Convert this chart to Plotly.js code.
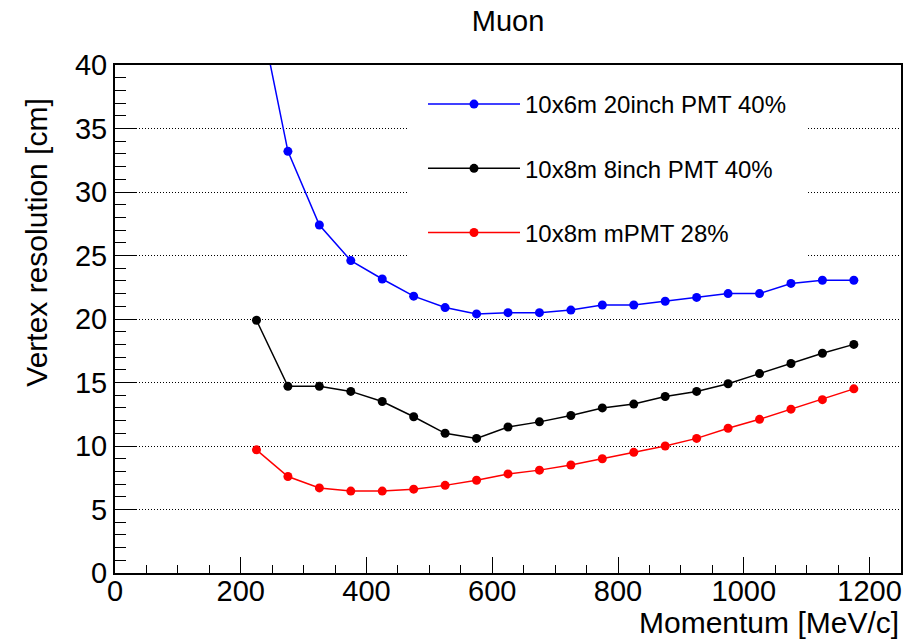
<!DOCTYPE html>
<html>
<head>
<meta charset="utf-8">
<script src="https://cdn.plot.ly/plotly-3.0.1.min.js"></script>
<style>html,body{margin:0;padding:0;background:#fff;}#chart{width:918px;height:640px;}</style>
</head>
<body>
<div id="chart"></div>
<script>
const momentum = [225, 275, 325, 375, 425, 475, 525, 575, 625, 675, 725, 775, 825, 875, 925, 975, 1025, 1075, 1125, 1175];
const res20inch = [45.4, 33.2, 27.4, 24.6, 23.15, 21.8, 20.9, 20.4, 20.5, 20.5, 20.7, 21.1, 21.1, 21.4, 21.7, 22.0, 22.0, 22.8, 23.05, 23.05];
const res8inch = [19.9, 14.7, 14.7, 14.3, 13.5, 12.3, 11.0, 10.6, 11.5, 11.9, 12.4, 13.0, 13.3, 13.9, 14.3, 14.9, 15.7, 16.5, 17.3, 18.0];
const resMPMT = [9.7, 7.6, 6.7, 6.45, 6.45, 6.6, 6.9, 7.3, 7.8, 8.1, 8.5, 9.0, 9.5, 10.0, 10.6, 11.4, 12.1, 12.9, 13.65, 14.5];
const seriesNames = ["10x6m 20inch PMT 40%", "10x8m 8inch PMT 40%", "10x8m mPMT 28%"];
const seriesColors = ["#0000ff", "#000000", "#ff0000"];
const xTicks = [0, 200, 400, 600, 800, 1000, 1200];
const yTicks = [0, 5, 10, 15, 20, 25, 30, 35, 40];

const FONT = "Liberation Sans, Arial, Helvetica, sans-serif";
const ys = [res20inch, res8inch, resMPMT];
const traces = ys.map((y, i) => ({
  x: momentum, y: y, type: "scatter", mode: "lines+markers",
  name: seriesNames[i], legendgroup: "g" + i,
  line: {color: seriesColors[i], width: 1.5},
  marker: {color: seriesColors[i], size: 9, symbol: "circle"}
}));

const layout = {
  width: 918, height: 640,
  margin: {l: 115, r: 17, t: 65, b: 67, pad: 0},
  paper_bgcolor: "#fff", plot_bgcolor: "#fff",
  font: {family: FONT, color: "#000"},
  title: {text: "Muon", font: {size: 29, family: FONT, color: "#000"}, x: 0.5535, xanchor: "center", y: 0.967, yanchor: "middle", xref: "container", yref: "container"},
  showlegend: true,
  legend: {x: 0.3715, y: 0.998, xanchor: "left", yanchor: "top", bgcolor: "#fff", bordercolor: "#fff", borderwidth: 16,
           font: {size: 24, family: FONT, color: "#000"}, tracegroupgap: 30, itemwidth: 92},
  xaxis: {range: [0, 1250], tickvals: xTicks, ticktext: xTicks.map(String), ticks: "inside", ticklen: 16, tickwidth: 1,
          tickcolor: "#000", showgrid: false, zeroline: false, showline: true, linecolor: "#000", linewidth: 2, mirror: true,
          ticklabelstandoff: -9,
          tickfont: {size: 29, family: FONT, color: "#000"},
          minor: {dtick: 50, tick0: 0, ticks: "inside", ticklen: 8, tickwidth: 1, tickcolor: "#000", showgrid: false}},
  yaxis: {range: [0, 40], tickvals: yTicks, ticktext: yTicks.map(String), ticks: "inside", ticklen: 22, tickwidth: 1,
          tickcolor: "#000", showgrid: true, gridcolor: "#000", gridwidth: 1, griddash: "1px,2px", zeroline: false,
          showline: true, linecolor: "#000", linewidth: 2, mirror: true,
          tickfont: {size: 29, family: FONT, color: "#000"},
          minor: {dtick: 1, tick0: 0, ticks: "inside", ticklen: 11, tickwidth: 1, tickcolor: "#000", showgrid: false}},
  annotations: [
    {text: "Momentum [MeV/c]", xref: "paper", yref: "paper", x: 1, y: -0.0965, xanchor: "right", yanchor: "middle",
     showarrow: false, font: {size: 30, family: FONT, color: "#000"}},
    {text: "Vertex resolution [cm]", xref: "paper", yref: "paper", x: -0.1, y: 0.651, xanchor: "center", yanchor: "middle",
     textangle: -90, showarrow: false, font: {size: 30, family: FONT, color: "#000"}}
  ]
};
Plotly.newPlot("chart", traces, layout, {displayModeBar: false, staticPlot: true});
</script>
</body>
</html>
